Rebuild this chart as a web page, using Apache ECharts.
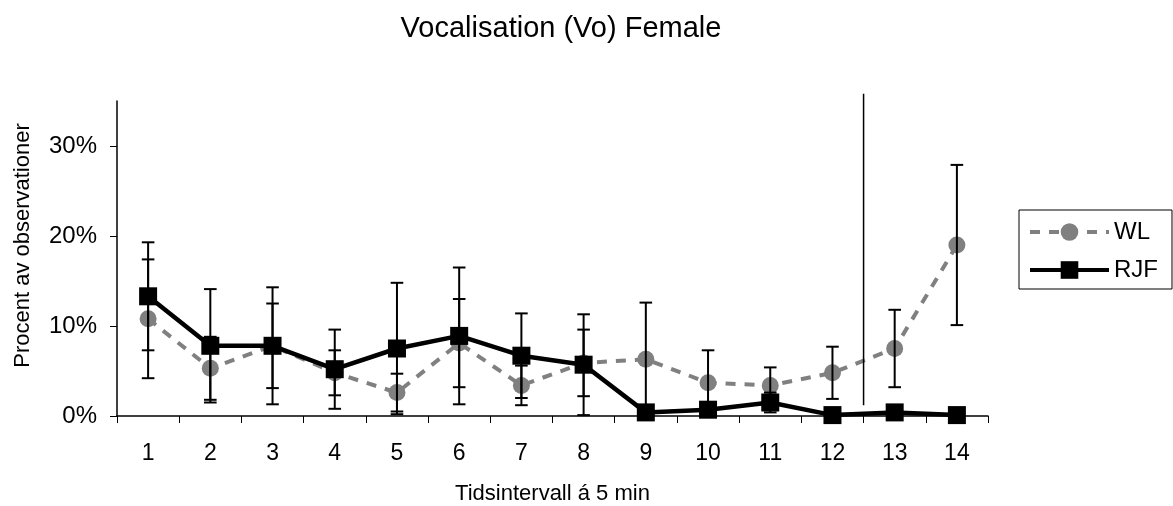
<!DOCTYPE html>
<html>
<head>
<meta charset="utf-8">
<script src="https://cdn.jsdelivr.net/npm/echarts@6/dist/echarts.min.js"></script>
<style>
html,body{margin:0;padding:0;background:#fff;}
#chart{width:1173px;height:506px;}
</style>
</head>
<body>
<div id="chart"></div>
<script>
// ---- data ----
const titleText = 'Vocalisation (Vo) Female';
const xName = 'Tidsintervall á 5 min';
const yName = 'Procent av observationer';
const categories = ['1','2','3','4','5','6','7','8','9','10','11','12','13','14'];
const wlValues  = [10.8, 5.3, 7.8, 4.8, 2.6, 8.1, 3.4, 5.9, 6.3, 3.7, 3.4, 4.8, 7.5, 19.0];
const wlErrors  = [ 6.6, 3.5, 4.7, 2.5, 2.1, 4.9, 2.2, 3.7, 6.3, 3.6, 2.0, 2.9, 4.3,  8.9];
const rjfValues = [13.3, 7.8, 7.8, 5.2, 7.5, 8.9, 6.7, 5.7, 0.4, 0.7, 1.5, 0.1, 0.4,  0.1];
const rjfErrors = [ 6.0, 6.3, 6.5, 4.4, 7.3, 7.6, 4.7, 5.6, 0.0, 0.0, 1.1, 0.0, 0.0,  0.0];
const dividerBetween = ['12', '13'];
const dividerSpan = [1.2, 35.8];
const yTicks = [0, 10, 20, 30];

// ---- build ----
const FONT = 'Liberation Sans, Arial, sans-serif';
function errData(vals, errs) {
  return vals.map((v, i) => [i, v - errs[i], v + errs[i]]).filter((d, i) => errs[i] > 0);
}
function errRender(params, api) {
  const x = api.value(0);
  const top = api.coord([x, api.value(2)]);
  const bot = api.coord([x, Math.max(0, api.value(1))]);
  const hw = 6.3;
  const st = { stroke: '#000', lineWidth: 2 };
  return {
    type: 'group',
    children: [
      { type: 'line', shape: { x1: top[0], y1: top[1], x2: bot[0], y2: bot[1] }, style: st },
      { type: 'line', shape: { x1: top[0] - hw, y1: top[1], x2: top[0] + hw, y2: top[1] }, style: st },
      { type: 'line', shape: { x1: bot[0] - hw, y1: bot[1], x2: bot[0] + hw, y2: bot[1] }, style: st }
    ]
  };
}
const idxA = categories.indexOf(dividerBetween[0]);
const idxB = categories.indexOf(dividerBetween[1]);

const chart = echarts.init(document.getElementById('chart'), null, { renderer: 'canvas' });
chart.setOption({
  animation: false,
  backgroundColor: '#fff',
  textStyle: { fontFamily: FONT },
  title: {
    text: titleText,
    left: 556, top: 9, textAlign: 'center',
    textStyle: { fontFamily: FONT, fontSize: 29, fontWeight: 'normal', color: '#000' }
  },
  legend: {
    data: ['WL', 'RJF'],
    orient: 'vertical',
    left: 1019, top: 210,
    padding: [10, 14, 7, 9],
    itemGap: 14,
    itemWidth: 79, itemHeight: 22,
    borderColor: '#000', borderWidth: 1,
    lineStyle: { width: 4 },
    textStyle: { fontFamily: FONT, fontSize: 24, color: '#000', padding: [0, 0, 0, 0] }
  },
  grid: { left: 117, right: 185, top: 101, bottom: 90, containLabel: false, outerBoundsMode: 'none' },
  xAxis: {
    type: 'category',
    data: categories,
    boundaryGap: true,
    name: xName,
    nameLocation: 'middle',
    nameGap: 67,
    nameTextStyle: { fontFamily: FONT, fontSize: 22, color: '#000' },
    axisLine: { lineStyle: { color: '#000', width: 1.5 } },
    axisTick: { show: true, length: 7, lineStyle: { color: '#000', width: 1 } },
    axisLabel: { fontFamily: FONT, fontSize: 23, color: '#000', margin: 26 },
    splitLine: { show: false }
  },
  yAxis: {
    type: 'value',
    min: 0, max: 35, interval: 10,
    name: yName,
    nameLocation: 'middle',
    nameGap: 83,
    nameTextStyle: { fontFamily: FONT, fontSize: 22, color: '#000', padding: [0, 0, 0, 26] },
    axisLine: { show: true, lineStyle: { color: '#000', width: 1.5 } },
    axisTick: { show: true, length: 7, lineStyle: { color: '#000', width: 1 } },
    axisLabel: {
      fontFamily: FONT, fontSize: 24, color: '#000', margin: 20, showMaxLabel: false,
      formatter: v => (yTicks.indexOf(v) >= 0 ? v + '%' : '')
    },
    splitLine: { show: false }
  },
  series: [
    {
      name: 'WL', type: 'line', data: wlValues, z: 2,
      symbol: 'circle', symbolSize: 17,
      itemStyle: { color: '#808080' },
      lineStyle: { color: '#808080', width: 4, type: [10, 9] }
    },
    {
      name: 'WL err', type: 'custom', data: errData(wlValues, wlErrors), z: 3,
      renderItem: errRender, silent: true
    },
    {
      name: 'RJF', type: 'line', data: rjfValues, z: 4,
      symbol: 'rect', symbolSize: 18,
      itemStyle: { color: '#000' },
      lineStyle: { color: '#000', width: 4.5 }
    },
    {
      name: 'RJF err', type: 'custom', data: errData(rjfValues, rjfErrors), z: 5,
      renderItem: errRender, silent: true
    },
    {
      name: 'divider', type: 'custom', data: [[idxA, idxB, dividerSpan[0], dividerSpan[1]]], z: 6,
      clip: false, silent: true,
      renderItem: function (params, api) {
        const a = api.coord([api.value(0), api.value(2)]);
        const b = api.coord([api.value(1), api.value(3)]);
        const x = (a[0] + b[0]) / 2;
        return { type: 'line', shape: { x1: x, y1: a[1], x2: x, y2: b[1] }, style: { stroke: '#000', lineWidth: 1.5 } };
      }
    }
  ]
});
</script>
</body>
</html>
